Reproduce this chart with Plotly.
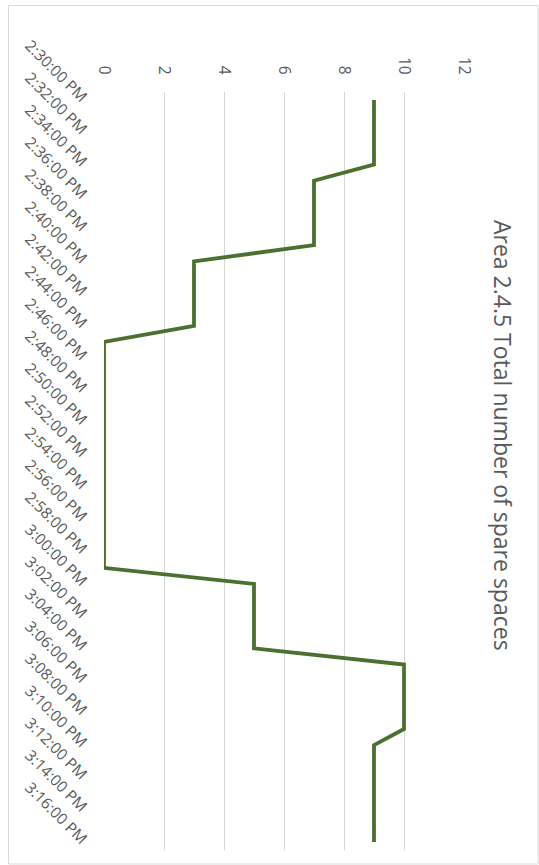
import plotly.graph_objects as go

# Data: one reading per minute, 2:30 PM .. 3:16 PM
times = [f"{2 + (30 + m) // 60 if (30 + m) < 60 else 3}:{(30 + m) % 60:02d}:00 PM" for m in range(47)]
spare = [9, 9, 9, 9, 9,
         7, 7, 7, 7, 7,
         3, 3, 3, 3, 3,
         0, 0, 0, 0, 0, 0, 0, 0, 0, 0, 0, 0, 0, 0, 0,
         5, 5, 5, 5, 5,
         10, 10, 10, 10, 10,
         9, 9, 9, 9, 9, 9, 9]
value_ticks = [0, 2, 4, 6, 8, 10, 12]
title_text = "Area 2.4.5 Total number of spare spaces"

W, H = 539, 865
L, R, T, B = 104, 464, 92, 850

def px_x(p):
    return (p - L) / (R - L)

def px_y(p):
    return (B - p) / (B - T)

fig = go.Figure()
fig.add_trace(go.Scatter(
    x=spare, y=times, mode="lines",
    line=dict(color="#4b7030", width=3.8),
    hoverinfo="skip", showlegend=False,
))

tick_font = dict(family="Open Sans, sans-serif", size=15.5, color="#595959")

fig.update_layout(
    width=W, height=H,
    margin=dict(l=L, r=W - R, t=T, b=H - B),
    paper_bgcolor="white", plot_bgcolor="white",
    xaxis=dict(
        range=[0, 12], side="top", tickvals=value_ticks,
        tickangle=90, showgrid=True, gridcolor="#d6d6d6", gridwidth=1,
        zeroline=False, showline=False, ticks="", tickfont=tick_font,
        ticklabelstandoff=14,
    ),
    yaxis=dict(
        type="category", categoryorder="array", categoryarray=times,
        range=[46.5, -0.5], tickvals=times[::2], ticktext=times[::2],
        tickangle=45, showgrid=False, zeroline=False, showline=False,
        ticks="", tickfont=tick_font, ticklabelstandoff=17,
    ),
    annotations=[dict(
        text=title_text, textangle=90, showarrow=False,
        xref="paper", yref="paper", x=px_x(503), y=px_y(435),
        xanchor="center", yanchor="middle",
        font=dict(family="Open Sans, sans-serif", size=23, color="#595959"),
    )],
    shapes=[dict(
        type="rect", xref="paper", yref="paper",
        x0=px_x(8.5), x1=px_x(538), y0=px_y(864), y1=px_y(5.5),
        line=dict(color="#d9d9d9", width=1), layer="below",
    )],
)

fig.write_html("out.html")
